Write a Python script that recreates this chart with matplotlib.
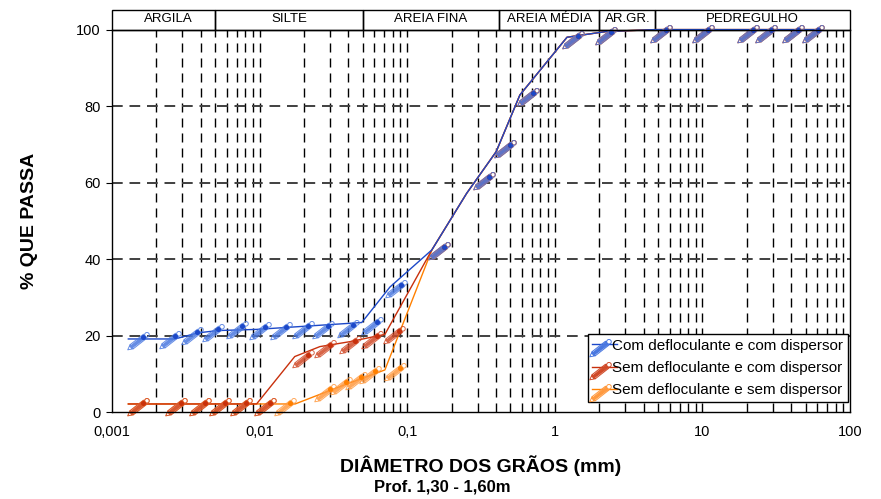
import numpy as np
import matplotlib
matplotlib.use("Agg")
import matplotlib.pyplot as plt
from matplotlib.path import Path
from matplotlib.patches import Rectangle
from matplotlib.lines import Line2D
import matplotlib.transforms as mtransforms
from matplotlib.ticker import FixedLocator, NullFormatter

plt.rcParams['font.family'] = ['Liberation Sans', 'DejaVu Sans']

# sieve / sedimentation points (diameter mm, % passing)
# coarse part is the same for the three tests
coarse_d = [0.178, 0.36, 0.50, 0.715, 1.44, 2.4, 5.67, 10.9, 22.0, 29.2, 44.5, 60.7]
coarse_p = [43.1, 61.4, 69.8, 83.5, 98.3, 99.4, 100, 100, 100, 100, 100, 100]

blue_d = [0.00161, 0.00267, 0.00378, 0.00525, 0.00756, 0.0109, 0.0152, 0.0212, 0.0292, 0.0431, 0.0621, 0.0908]
blue_p = [19.5, 20.0, 20.9, 21.8, 22.5, 22.2, 22.2, 22.5, 22.5, 22.8, 23.5, 33.2]

red_d = [0.00162, 0.00293, 0.00426, 0.00583, 0.00808, 0.0117, 0.0212, 0.0299, 0.0443, 0.0624, 0.0882]
red_p = [2.35, 2.35, 2.35, 2.35, 2.35, 2.35, 14.9, 17.5, 18.6, 19.9, 21.2]

orange_d = [0.00162, 0.00293, 0.00426, 0.00583, 0.00808, 0.0117, 0.0161, 0.0299, 0.0386, 0.0486, 0.0605, 0.0895]
orange_p = [2.35, 2.35, 2.35, 2.35, 2.35, 2.35, 2.35, 6.0, 7.8, 9.2, 10.7, 11.5]

# drawn curves
coarse_curve_d = [0.253, 0.401, 0.580, 1.21, 2.23, 4.8, 60.7]
coarse_curve_p = [57.2, 68.1, 82.9, 98.0, 99.5, 100, 100]
blue_curve_d = [0.00129, 0.00267, 0.00383, 0.00522, 0.00954, 0.0492, 0.0765, 0.147]
blue_curve_p = [19.1, 19.1, 20.7, 21.3, 21.6, 23.4, 32.7, 42.4]
red_curve_d = [0.00129, 0.00954, 0.0173, 0.0256, 0.0410, 0.0706, 0.147]
red_curve_p = [2.1, 2.1, 14.5, 17.1, 18.4, 20.3, 42.4]
orange_curve_d = [0.00129, 0.0174, 0.0348, 0.0706, 0.147]
orange_curve_p = [2.1, 2.1, 6.6, 11.0, 42.4]

labels = ["Com defloculante e com dispersor",
          "Sem defloculante e com dispersor",
          "Sem defloculante e sem dispersor"]

# soil fraction band (old ABNT limits)
band_edges = [0.001, 0.005, 0.05, 0.42, 2.0, 4.8, 100]
band_names = ["ARGILA", "SILTE", "AREIA FINA", "AREIA MÉDIA", "AR.GR.", "PEDREGULHO"]

xticks = [0.001, 0.01, 0.1, 1, 10, 100]
xticklabels = ["0,001", "0,01", "0,1", "1", "10", "100"]
yticks = [0, 20, 40, 60, 80, 100]


def pencil_marker():
    # pencil shape, anchor near the eraser end, tip pointing down-left
    th = np.deg2rad(38)
    u = np.array([np.cos(th), np.sin(th)])
    n = np.array([-np.sin(th), np.cos(th)])
    w = 2.6

    def p(s, t):
        return s * u + t * n

    parts = []
    parts.append(Path([p(-15, -w), p(2, -w), p(2, w), p(-15, w), p(-15, -w)],
                      [Path.MOVETO, Path.LINETO, Path.LINETO, Path.LINETO, Path.CLOSEPOLY]))
    parts.append(Path([p(-15, -w), p(-20, 0), p(-15, w)],
                      [Path.MOVETO, Path.LINETO, Path.LINETO]))
    for t in (-w * 0.6, -w * 0.2, w * 0.2, w * 0.6):
        parts.append(Path([p(-16.5, t * 0.8), p(2, t)], [Path.MOVETO, Path.LINETO]))
    parts.append(Path.circle(center=tuple(p(4.4, 0)), radius=2.3))
    return Path.make_compound_path(*parts)


PENCIL = pencil_marker()
MS = 22.7

fig = plt.figure(figsize=(8.81, 4.99), dpi=100)
ax = fig.add_axes([112 / 881, 1 - 412 / 499, 738 / 881, 382.4 / 499])
ax.set_xscale('log')
ax.set_xlim(0.001, 100)
ax.set_ylim(0, 100)

# grid
vlines = [m * 10.0 ** e for e in range(-3, 2) for m in range(1, 10)][1:]
for v in vlines:
    ax.axvline(v, color='black', lw=1.0, ls=(0, (6.5, 4.3)), zorder=1)
for h in [20, 40, 60, 80]:
    ax.axhline(h, color='#404040', lw=1.4, ls=(0, (5.5, 3.5)), zorder=1)

series = [
    (orange_d, orange_p, orange_curve_d, orange_curve_p, '#ff8000', '#ff9a40'),
    (red_d, red_p, red_curve_d, red_curve_p, '#c8300c', '#d04a28'),
    (blue_d, blue_p, blue_curve_d, blue_curve_p, '#1c48c8', '#4a78e0'),
]
for d, pv, cd, cp, lc, mc in series:
    ax.plot(cd + coarse_curve_d, cp + coarse_curve_p, color=lc, lw=1.0, zorder=3, clip_on=False)
    ax.plot(d + coarse_d, pv + coarse_p, ls='none', marker=PENCIL, ms=MS,
            mfc='none', mec=mc, mew=0.7, zorder=4, clip_on=False, alpha=0.85)
    ax.plot(d + coarse_d, pv + coarse_p, ls='none', marker='o', ms=2.6,
            mfc=lc, mec=lc, zorder=5, clip_on=False)

# ticks
ax.xaxis.set_major_locator(FixedLocator(xticks))
ax.set_xticklabels(xticklabels)
ax.xaxis.set_minor_formatter(NullFormatter())
ax.tick_params(axis='x', which='both', length=0, pad=9, labelsize=10.5)
ax.set_yticks(yticks)
ax.tick_params(axis='y', length=4, pad=4, labelsize=10.5)
for s in ax.spines.values():
    s.set_linewidth(1.0)
    s.set_zorder(6)

# fraction band on top
trans = mtransforms.blended_transform_factory(ax.transData, ax.transAxes)
for i, name in enumerate(band_names):
    x0, x1 = band_edges[i], band_edges[i + 1]
    ax.add_patch(Rectangle((x0, 1.0), x1 - x0, 20 / 382.4, transform=trans,
                           fill=False, ec='black', lw=1.0, clip_on=False))
    xm = np.sqrt(x0 * x1)
    if i == 0:
        xm = 0.0024
    ax.text(xm, 1.0 + 10.5 / 382.4, name, transform=trans, ha='center', va='center',
            fontsize=9.5)

# legend
handles = [Line2D([], [], color=c[4], lw=1.0, marker=PENCIL, ms=MS, mfc='none',
                  mec=c[5], mew=0.7) for c in series[::-1]]
leg = ax.legend(handles, labels, loc='lower right', bbox_to_anchor=(0.997, 0.026),
                fontsize=11, frameon=True, fancybox=False, framealpha=1,
                edgecolor='black', borderpad=0.3, labelspacing=0.55,
                handlelength=1.6, handletextpad=-0.3, borderaxespad=0)
leg.get_frame().set_linewidth(1.0)
leg.set_zorder(7)

fig.text(30 / 881, 1 - 221 / 499, "% QUE PASSA", rotation=90, ha='center', va='center',
         fontsize=14, fontweight='bold')
fig.text(481 / 881, 1 - 466 / 499, "DIÂMETRO DOS GRÃOS (mm)", ha='center', va='center',
         fontsize=14, fontweight='bold')
fig.text(442.5 / 881, 1 - 487 / 499, "Prof. 1,30 - 1,60m", ha='center', va='center',
         fontsize=12, fontweight='bold')

fig.savefig("out.png", dpi=100)
